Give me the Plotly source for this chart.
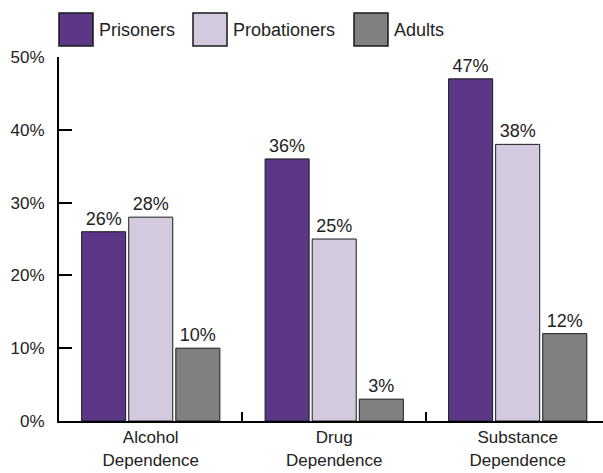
import plotly.graph_objects as go

categories = ["Alcohol<br>Dependence", "Drug<br>Dependence", "Substance<br>Dependence"]
series_names = ["Prisoners", "Probationers", "Adults"]
prisoners = [26, 36, 47]
probationers = [28, 25, 38]
adults = [10, 3, 12]
y_ticks = [0, 10, 20, 30, 40, 50]
y_tick_labels = ["0%", "10%", "20%", "30%", "40%", "50%"]

colors = ["#5c3687", "#d3cae0", "#808080"]
FONT = "Liberation Sans, Arial, sans-serif"
FS = 18

fig = go.Figure()
for name, vals, col in zip(series_names, [prisoners, probationers, adults], colors):
    fig.add_trace(go.Bar(
        x=categories, y=vals, name=name,
        marker=dict(color=col, line=dict(color="#1a1a1a", width=1)),
        text=[f"{v}%" for v in vals], textposition="outside",
        textfont=dict(family=FONT, size=FS, color="#222222"),
        cliponaxis=False, showlegend=False,
    ))

# custom legend (large swatches)
legend_x = [59, 193, 354]
for name, col, x0 in zip(series_names, colors, legend_x):
    fig.add_shape(type="rect", xref="paper", yref="paper",
                  x0=(x0 - 59) / 544, x1=(x0 + 34 - 59) / 544,
                  y0=(421 - 46) / 364, y1=(421 - 13) / 364,
                  fillcolor=col, line=dict(color="#1a1a1a", width=1.5))
    fig.add_annotation(xref="paper", yref="paper",
                       x=(x0 + 38 - 59) / 544, y=(421 - 30) / 364,
                       text=name, showarrow=False, xanchor="left", yanchor="middle",
                       font=dict(family=FONT, size=FS, color="#222222"))

fig.update_layout(
    width=603, height=473,
    margin=dict(l=59, r=0, t=57, b=52),
    plot_bgcolor="white", paper_bgcolor="white",
    barmode="group", bargap=0.23, bargroupgap=0.065,
    font=dict(family=FONT, size=FS, color="#222222"),
    xaxis=dict(range=[-0.5, 2.465], showline=True, linecolor="black", linewidth=2,
               ticks="inside", tickson="boundaries", ticklen=9, tickwidth=2,
               tickcolor="black", showgrid=False, zeroline=False,
               tickfont=dict(family=FONT, size=17)),
    yaxis=dict(range=[0, 50], showline=True, linecolor="black", linewidth=2,
               ticks="inside", ticklen=13, tickwidth=2, tickcolor="black",
               ticklabelstandoff=9,
               tickvals=y_ticks, ticktext=y_tick_labels, showgrid=False, zeroline=False,
               tickfont=dict(family=FONT, size=17)),
)

fig.write_html("out.html")
